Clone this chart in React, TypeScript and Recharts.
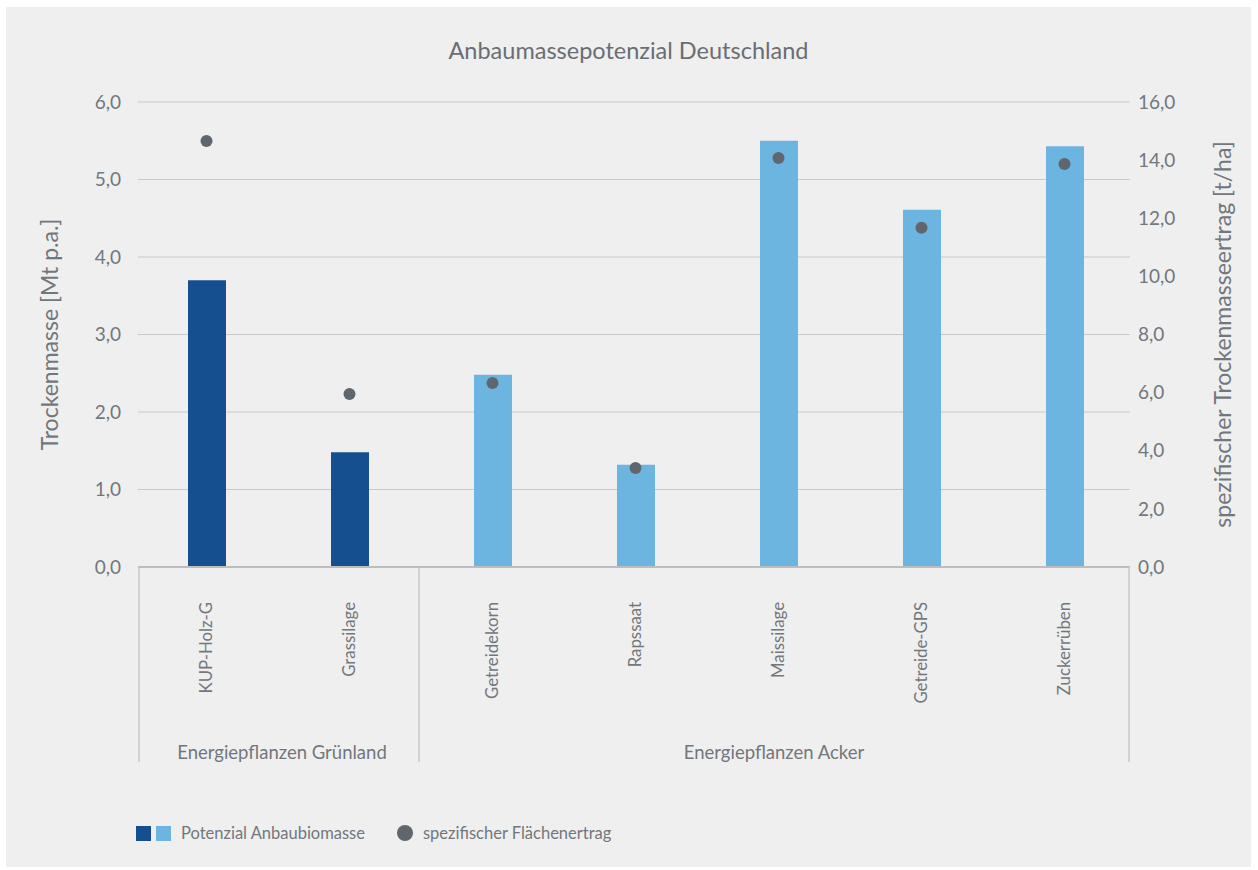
import { ComposedChart, Bar, Cell, Scatter, XAxis, YAxis, CartesianGrid, Label } from "recharts";

const categories = ["KUP-Holz-G", "Grassilage", "Getreidekorn", "Rapssaat", "Maissilage", "Getreide-GPS", "Zuckerrüben"];
const groupOf = ["Energiepflanzen Grünland", "Energiepflanzen Grünland", "Energiepflanzen Acker", "Energiepflanzen Acker", "Energiepflanzen Acker", "Energiepflanzen Acker", "Energiepflanzen Acker"];
const biomasse = [3.7, 1.48, 2.48, 1.32, 5.5, 4.61, 5.43];
const ertrag = [14.66, 5.95, 6.33, 3.41, 14.07, 11.67, 13.87];
const leftTicks = [0, 1, 2, 3, 4, 5, 6];
const rightTicks = [0, 2, 4, 6, 8, 10, 12, 14, 16];

const data = categories.map((name, i) => ({
  name,
  group: groupOf[i],
  biomasse: biomasse[i],
  ertrag: ertrag[i],
}));

const DARK = "#154f8f";
const LIGHT = "#6cb5e1";
const DOT = "#60666e";
const TEXT = "#72777d";
const FONT = "Lato, 'Open Sans', sans-serif";

const W = 1245;
const H = 860;
const MARGIN = { top: 95, right: 0, bottom: 105, left: 0 };
const LEFT_W = 132;
const RIGHT_W = 121;
const PAD = { left: -3, right: -6 };
const BAND = (W - LEFT_W - RIGHT_W - PAD.left - PAD.right) / categories.length;
const PLOT_L = LEFT_W + 1;
const PLOT_R = W - RIGHT_W - 1;

const fmt = (v: number) => v.toFixed(1).replace(".", ",");

const CategoryTick = (props: any) => {
  const { x, y, payload } = props;
  const i = payload.index;
  const group = groupOf[i];
  const first = i === 0 || groupOf[i - 1] !== group;
  const count = groupOf.filter((g) => g === group).length;
  const last = i === categories.length - 1;
  const sepX = i === 0 ? PLOT_L : x - BAND / 2 - 2;
  const groupEnd = groupOf.lastIndexOf(group) === categories.length - 1 ? PLOT_R : sepX + count * BAND;
  return (
    <g>
      <text
        x={x}
        y={y + 35}
        transform={`rotate(-90, ${x}, ${y + 35})`}
        textAnchor="end"
        dy="0.35em"
        fill={TEXT}
        fontSize={16.8}
        fontFamily={FONT}
      >
        {payload.value}
      </text>
      {first && (
        <>
          <line x1={sepX} x2={sepX} y1={y} y2={y + 195} stroke="#c9c9c9" strokeWidth={1.5} />
          <text
            x={(sepX + groupEnd) / 2}
            y={y + 186}
            textAnchor="middle"
            dy="0.35em"
            fill={TEXT}
            fontSize={18.5}
            fontFamily={FONT}
          >
            {group}
          </text>
        </>
      )}
      {last && <line x1={PLOT_R} x2={PLOT_R} y1={y} y2={y + 195} stroke="#c9c9c9" strokeWidth={1.5} />}
    </g>
  );
};

export default function App() {
  return (
    <div
      style={{
        position: "absolute",
        left: 6,
        top: 7,
        width: W,
        height: H,
        background: "#efefef",
        fontFamily: FONT,
      }}
    >
      <div
        style={{
          position: "absolute",
          top: 29,
          width: "100%",
          textAlign: "center",
          fontSize: 23.5,
          color: "#6a6e73",
        }}
      >
        Anbaumassepotenzial Deutschland
      </div>
      <ComposedChart width={W} height={H} data={data} margin={MARGIN}>
        <CartesianGrid vertical={false} stroke="#c9c9c9" yAxisId="left" />
        <XAxis
          dataKey="name"
          interval={0}
          height={195}
          padding={PAD}
          tickSize={0}
          tickMargin={0}
          tickLine={false}
          axisLine={{ stroke: "#bdbdbd", strokeWidth: 2 }}
          tick={<CategoryTick />}
        />
        <YAxis
          yAxisId="left"
          width={LEFT_W}
          domain={[0, 6]}
          ticks={leftTicks}
          tickFormatter={fmt}
          axisLine={false}
          tickLine={false}
          tickSize={0}
          tickMargin={17}
          tick={{ fill: TEXT, fontSize: 19, fontFamily: FONT }}
        >
          <Label
            value="Trockenmasse [Mt p.a.]"
            angle={-90}
            position="center"
            dx={-22}
            fill={TEXT}
            fontSize={23}
            fontFamily={FONT}
          />
        </YAxis>
        <YAxis
          yAxisId="right"
          orientation="right"
          width={RIGHT_W}
          domain={[0, 16]}
          ticks={rightTicks}
          tickFormatter={fmt}
          axisLine={false}
          tickLine={false}
          tickSize={0}
          tickMargin={8}
          tick={{ fill: TEXT, fontSize: 19, fontFamily: FONT }}
        >
          <Label
            value="spezifischer Trockenmasseertrag [t/ha]"
            angle={-90}
            position="center"
            dx={32}
            fill={TEXT}
            fontSize={23}
            fontFamily={FONT}
          />
        </YAxis>
        <Bar dataKey="biomasse" yAxisId="left" barSize={38} isAnimationActive={false}>
          {data.map((d, i) => (
            <Cell key={i} fill={d.group === "Energiepflanzen Grünland" ? DARK : LIGHT} />
          ))}
        </Bar>
        <Scatter
          dataKey="ertrag"
          yAxisId="right"
          fill={DOT}
          isAnimationActive={false}
          shape={(p: any) => <circle cx={p.cx} cy={p.cy} r={6} fill={DOT} />}
        />
      </ComposedChart>
      <div
        style={{
          position: "absolute",
          left: 130,
          top: 816,
          display: "flex",
          alignItems: "center",
          fontSize: 16.5,
          color: TEXT,
        }}
      >
        <span style={{ width: 15, height: 15, background: DARK, display: "inline-block" }} />
        <span style={{ width: 15, height: 15, background: LIGHT, display: "inline-block", marginLeft: 5 }} />
        <span style={{ marginLeft: 10 }}>Potenzial Anbaubiomasse</span>
        <span
          style={{
            width: 16,
            height: 16,
            borderRadius: 8,
            background: DOT,
            display: "inline-block",
            marginLeft: 32,
          }}
        />
        <span style={{ marginLeft: 10 }}>spezifischer Flächenertrag</span>
      </div>
    </div>
  );
}
